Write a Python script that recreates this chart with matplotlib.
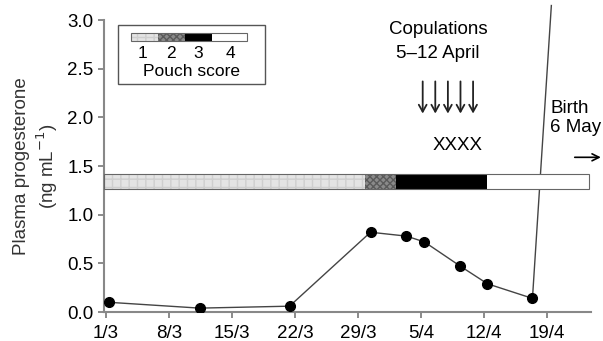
import matplotlib.pyplot as plt
from matplotlib.patches import Rectangle
import numpy as np

plt.rcParams['font.family'] = ['Liberation Sans', 'DejaVu Sans']

# days counted from 1 March (day 0)
tick_days = [0, 7, 14, 21, 28, 35, 42, 49]
tick_labels = ['1/3', '8/3', '15/3', '22/3', '29/3', '5/4', '12/4', '19/4']

sample_days = [0.3, 10.4, 20.4, 29.4, 33.4, 35.4, 39.4, 42.4, 47.4]
progesterone = [0.10, 0.04, 0.06, 0.82, 0.78, 0.72, 0.47, 0.29, 0.14]
# last sample rises far above the plotted range
surge_day, surge_value = 49.5, 3.15

# pouch score periods (start/end day)
pouch_edges = [-0.22, 28.8, 32.2, 42.3, 53.7]
pouch_scores = [1, 2, 3, 4]
score_face = {1: '#e4e4e4', 2: '#8a8a8a', 3: 'black', 4: 'white'}
score_hatch = {1: '++', 2: 'xxxxx', 3: None, 4: None}
score_hcol = {1: '#cfcfcf', 2: '#5a5a5a', 3: 'black', 4: 'white'}

copulation_days = [35.2, 36.6, 38.0, 39.4, 40.8]

FS = 13.5

fig = plt.figure(figsize=(6.03, 3.41), dpi=100)
ax = fig.add_axes([0.1725, 0.085, 0.8075, 0.856])

ax.plot(sample_days, progesterone, color='#444444', lw=1, marker='o',
        ms=7, mfc='black', mec='black', zorder=3)
ax.plot([sample_days[-1], surge_day], [progesterone[-1], surge_value],
        color='#444444', lw=1, clip_on=False, zorder=2)


def pouch_bar(edges, y0, h):
    for i, s in enumerate(pouch_scores):
        ax.add_patch(Rectangle((edges[i], y0), edges[i + 1] - edges[i], h,
                               facecolor=score_face[s], hatch=score_hatch[s],
                               edgecolor=score_hcol[s], lw=0, zorder=2))
    ax.add_patch(Rectangle((edges[0], y0), edges[-1] - edges[0], h,
                           fill=False, edgecolor='#666666', lw=0.8, zorder=3))


pouch_bar(pouch_edges, 1.26, 0.155)

# legend box
ax.add_patch(Rectangle((1.33, 2.34), 16.34, 0.606, fill=False,
                       edgecolor='#555555', lw=1, zorder=3))
pouch_bar([2.78, 5.78, 8.78, 11.78, 15.67], 2.782, 0.082)
for x, s in zip([4.1, 7.2, 10.3, 13.8], pouch_scores):
    ax.text(x, 2.66, str(s), ha='center', va='center', fontsize=12.5)
ax.text(9.5, 2.47, 'Pouch score', ha='center', va='center', fontsize=12.5)

ax.text(36.9, 2.90, 'Copulations', ha='center', va='center', fontsize=FS)
ax.text(36.9, 2.66, '5\u201312 April', ha='center', va='center', fontsize=FS)
for d in copulation_days:
    ax.annotate('', xy=(d, 2.04), xytext=(d, 2.37),
                arrowprops=dict(arrowstyle='->,head_length=0.5,head_width=0.28',
                                color='#222222', lw=1.3, shrinkA=0, shrinkB=0))
ax.text(39.1, 1.71, 'XXXX', ha='center', va='center', fontsize=FS)

ax.text(49.4, 2.09, 'Birth', ha='left', va='center', fontsize=FS)
ax.text(49.4, 1.90, '6 May', ha='left', va='center', fontsize=FS)
ax.annotate('', xy=(55.0, 1.59), xytext=(52.1, 1.59), annotation_clip=False,
            arrowprops=dict(arrowstyle='->,head_length=0.5,head_width=0.25',
                            color='black', lw=1.2, shrinkA=0, shrinkB=0))

ax.set_xlim(-0.22, 53.9)
ax.set_ylim(0, 3.0)
ax.set_xticks(tick_days)
ax.set_xticklabels(tick_labels)
ax.set_yticks(np.arange(0, 3.01, 0.5))
ax.set_yticklabels(['%.1f' % v for v in np.arange(0, 3.01, 0.5)])
ax.tick_params(labelsize=FS, length=4, color='#777777', width=1.2)
ax.tick_params(axis='x', pad=5)
for side in ['top', 'right']:
    ax.spines[side].set_visible(False)
for side in ['left', 'bottom']:
    ax.spines[side].set_color('#888888')
    ax.spines[side].set_linewidth(1.5)

ax.set_ylabel('Plasma progesterone\n(ng mL$^{-1}$)', fontsize=FS,
              color='#333333', linespacing=1.25, labelpad=5)

fig.savefig('out.png', dpi=100)
